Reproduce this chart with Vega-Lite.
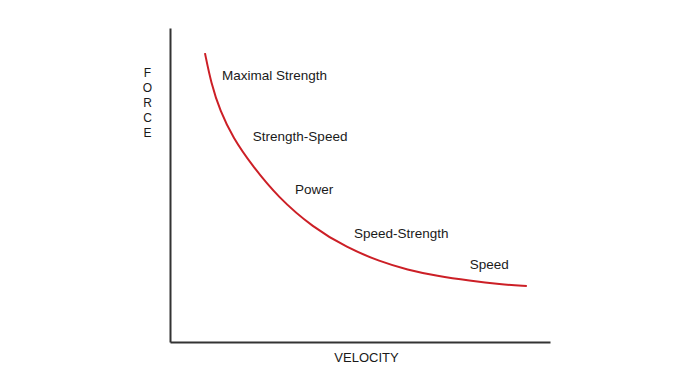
{
  "$schema": "https://vega.github.io/schema/vega-lite/v6.json",
  "width": 380,
  "height": 314,
  "autosize": {"type": "none"},
  "padding": {"left": 170, "top": 28, "right": 141, "bottom": 25},
  "background": "white",
  "config": {"view": {"stroke": null}, "font": "Liberation Sans"},
  "datasets": {
    "curve": [
      {"velocity": 9.2, "force": 92.0},
      {"velocity": 10.8, "force": 82.5},
      {"velocity": 13.2, "force": 73.5},
      {"velocity": 16.6, "force": 65.0},
      {"velocity": 21.5, "force": 56.4},
      {"velocity": 28.5, "force": 46.0},
      {"velocity": 37.6, "force": 36.5},
      {"velocity": 46.6, "force": 30.0},
      {"velocity": 55.3, "force": 25.6},
      {"velocity": 62.4, "force": 23.0},
      {"velocity": 70.3, "force": 21.0},
      {"velocity": 78.9, "force": 19.5},
      {"velocity": 86.8, "force": 18.4},
      {"velocity": 93.9, "force": 17.8}
    ],
    "labels": [
      {"velocity": 13.7, "force": 84.7, "label": "Maximal Strength"},
      {"velocity": 21.8, "force": 65.3, "label": "Strength-Speed"},
      {"velocity": 32.9, "force": 48.4, "label": "Power"},
      {"velocity": 48.4, "force": 34.4, "label": "Speed-Strength"},
      {"velocity": 78.9, "force": 24.5, "label": "Speed"}
    ]
  },
  "layer": [
    {
      "data": {"name": "curve"},
      "mark": {"type": "line", "color": "#cc1f26", "strokeWidth": 2, "interpolate": "basis"},
      "encoding": {
        "x": {
          "field": "velocity", "type": "quantitative",
          "scale": {"domain": [0, 100], "nice": false, "zero": false},
          "axis": {
            "title": "VELOCITY", "grid": false, "ticks": false, "labels": false,
            "domainColor": "#333333", "domainWidth": 2,
            "titleFontSize": 13, "titleFontWeight": "normal", "titleColor": "#1a1a1a",
            "titleBaseline": "top", "titleY": 9, "titleX": 196
          }
        },
        "y": {
          "field": "force", "type": "quantitative",
          "scale": {"domain": [0, 100], "nice": false, "zero": false},
          "axis": {
            "title": ["F", "O", "R", "C", "E"], "grid": false, "ticks": false, "labels": false,
            "domainColor": "#333333", "domainWidth": 2,
            "titleFontSize": 12, "titleFontWeight": "normal", "titleColor": "#1a1a1a",
            "titleAngle": 0, "titleAlign": "center", "titleBaseline": "top",
            "titleLineHeight": 15, "titleX": -23, "titleY": 39
          }
        }
      }
    },
    {
      "data": {"name": "labels"},
      "mark": {"type": "text", "align": "left", "baseline": "middle", "fontSize": 13.5, "color": "#1a1a1a"},
      "encoding": {
        "x": {"field": "velocity", "type": "quantitative"},
        "y": {"field": "force", "type": "quantitative"},
        "text": {"field": "label"}
      }
    }
  ]
}
